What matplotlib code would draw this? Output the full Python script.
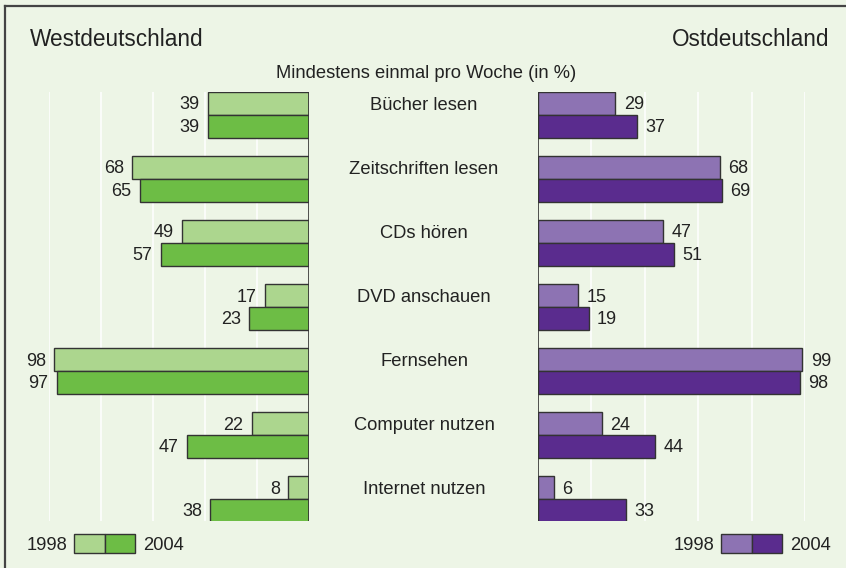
import numpy as np
import matplotlib.pyplot as plt
from matplotlib.patches import Rectangle
from matplotlib.lines import Line2D

plt.rcParams['font.family'] = ['Liberation Sans', 'DejaVu Sans']

# Data (in %)
categories = ['Bücher lesen', 'Zeitschriften lesen', 'CDs hören', 'DVD anschauen',
              'Fernsehen', 'Computer nutzen', 'Internet nutzen']
west_1998 = [39, 68, 49, 17, 98, 22, 8]
west_2004 = [39, 65, 57, 23, 97, 47, 38]
east_1998 = [29, 68, 47, 15, 99, 24, 6]
east_2004 = [37, 69, 51, 19, 98, 44, 33]
years = ['1998', '2004']

bg = '#edf5e6'
green_light = '#acd68e'
green_dark = '#6dbd45'
purple_light = '#8d73b3'
purple_dark = '#5a2c8e'
edge = '#333333'
text_col = '#222222'

W, H = 846, 568
fig = plt.figure(figsize=(W / 100, H / 100), dpi=100, facecolor=bg)


def fx(px):
    return px / W


def fy(py):
    return 1 - py / H


ax_bottom, ax_top = 521, 92
ax_l = fig.add_axes([fx(49), fy(ax_bottom), fx(309 - 49), (ax_bottom - ax_top) / H])
ax_r = fig.add_axes([fx(538), fy(ax_bottom), fx(805 - 538), (ax_bottom - ax_top) / H])

pos = np.arange(len(categories))
off = 0.178
bh = 0.355


def draw_side(ax, v98, v04, c98, c04, left):
    ax.set_facecolor('none')
    ax.barh(pos - off, v98, height=bh, color=c98, edgecolor=edge, linewidth=1.0, zorder=3)
    ax.barh(pos + off, v04, height=bh, color=c04, edgecolor=edge, linewidth=1.0, zorder=3)
    ax.set_ylim(6.34, -0.36)
    if left:
        ax.set_xlim(100, 0)
    else:
        ax.set_xlim(0, 100)
    ax.set_xticks([20, 40, 60, 80, 100])
    ax.grid(axis='x', color='white', linewidth=1.1, zorder=0)
    ax.tick_params(length=0, labelbottom=False, labelleft=False)
    for s in ax.spines.values():
        s.set_visible(False)
    ax.axvline(0, color=edge, linewidth=1.2, zorder=4)
    dx = -6 if left else 6
    ha = 'right' if left else 'left'
    for i in range(len(pos)):
        ax.annotate(str(v98[i]), (v98[i], pos[i] - off + 0.02), xytext=(dx, 0),
                    textcoords='offset points', ha=ha, va='center',
                    fontsize=13, color=text_col)
        ax.annotate(str(v04[i]), (v04[i], pos[i] + off + 0.02), xytext=(dx, 0),
                    textcoords='offset points', ha=ha, va='center',
                    fontsize=13, color=text_col)


draw_side(ax_l, west_1998, west_2004, green_light, green_dark, True)
draw_side(ax_r, east_1998, east_2004, purple_light, purple_dark, False)

for i, cat in enumerate(categories):
    ax_l.annotate(cat, (fx(424), pos[i] - off + 0.03), xycoords=('figure fraction', 'data'),
                  ha='center', va='center', fontsize=13.2, color=text_col,
                  annotation_clip=False)

fig.text(fx(30), fy(40), 'Westdeutschland', fontsize=16.3, ha='left', va='center', color=text_col)
fig.text(fx(829), fy(40), 'Ostdeutschland', fontsize=16.3, ha='right', va='center', color=text_col)
fig.text(fx(426), fy(74), 'Mindestens einmal pro Woche (in %)', fontsize=13.2,
         ha='center', va='center', color=text_col)


def legend(x0, c98, c04):
    for k, c in enumerate([c98, c04]):
        fig.patches.append(Rectangle((fx(x0 + 30.5 * k), fy(553)), fx(30.5), 19 / H,
                                     transform=fig.transFigure, facecolor=c,
                                     edgecolor=edge, linewidth=1.0))
    fig.text(fx(x0 - 7), fy(545), years[0], fontsize=13.2, ha='right', va='center', color=text_col)
    fig.text(fx(x0 + 69), fy(545), years[1], fontsize=13.2, ha='left', va='center', color=text_col)


legend(74, green_light, green_dark)
legend(721, purple_light, purple_dark)

# frame (top and left only)
fig.lines.append(Line2D([fx(5), 1], [fy(6), fy(6)], transform=fig.transFigure,
                        color='#444444', linewidth=1.6))
fig.lines.append(Line2D([fx(5), fx(5)], [0, fy(6)], transform=fig.transFigure,
                        color='#444444', linewidth=1.6))

fig.savefig('out.png', dpi=100, facecolor=bg)
